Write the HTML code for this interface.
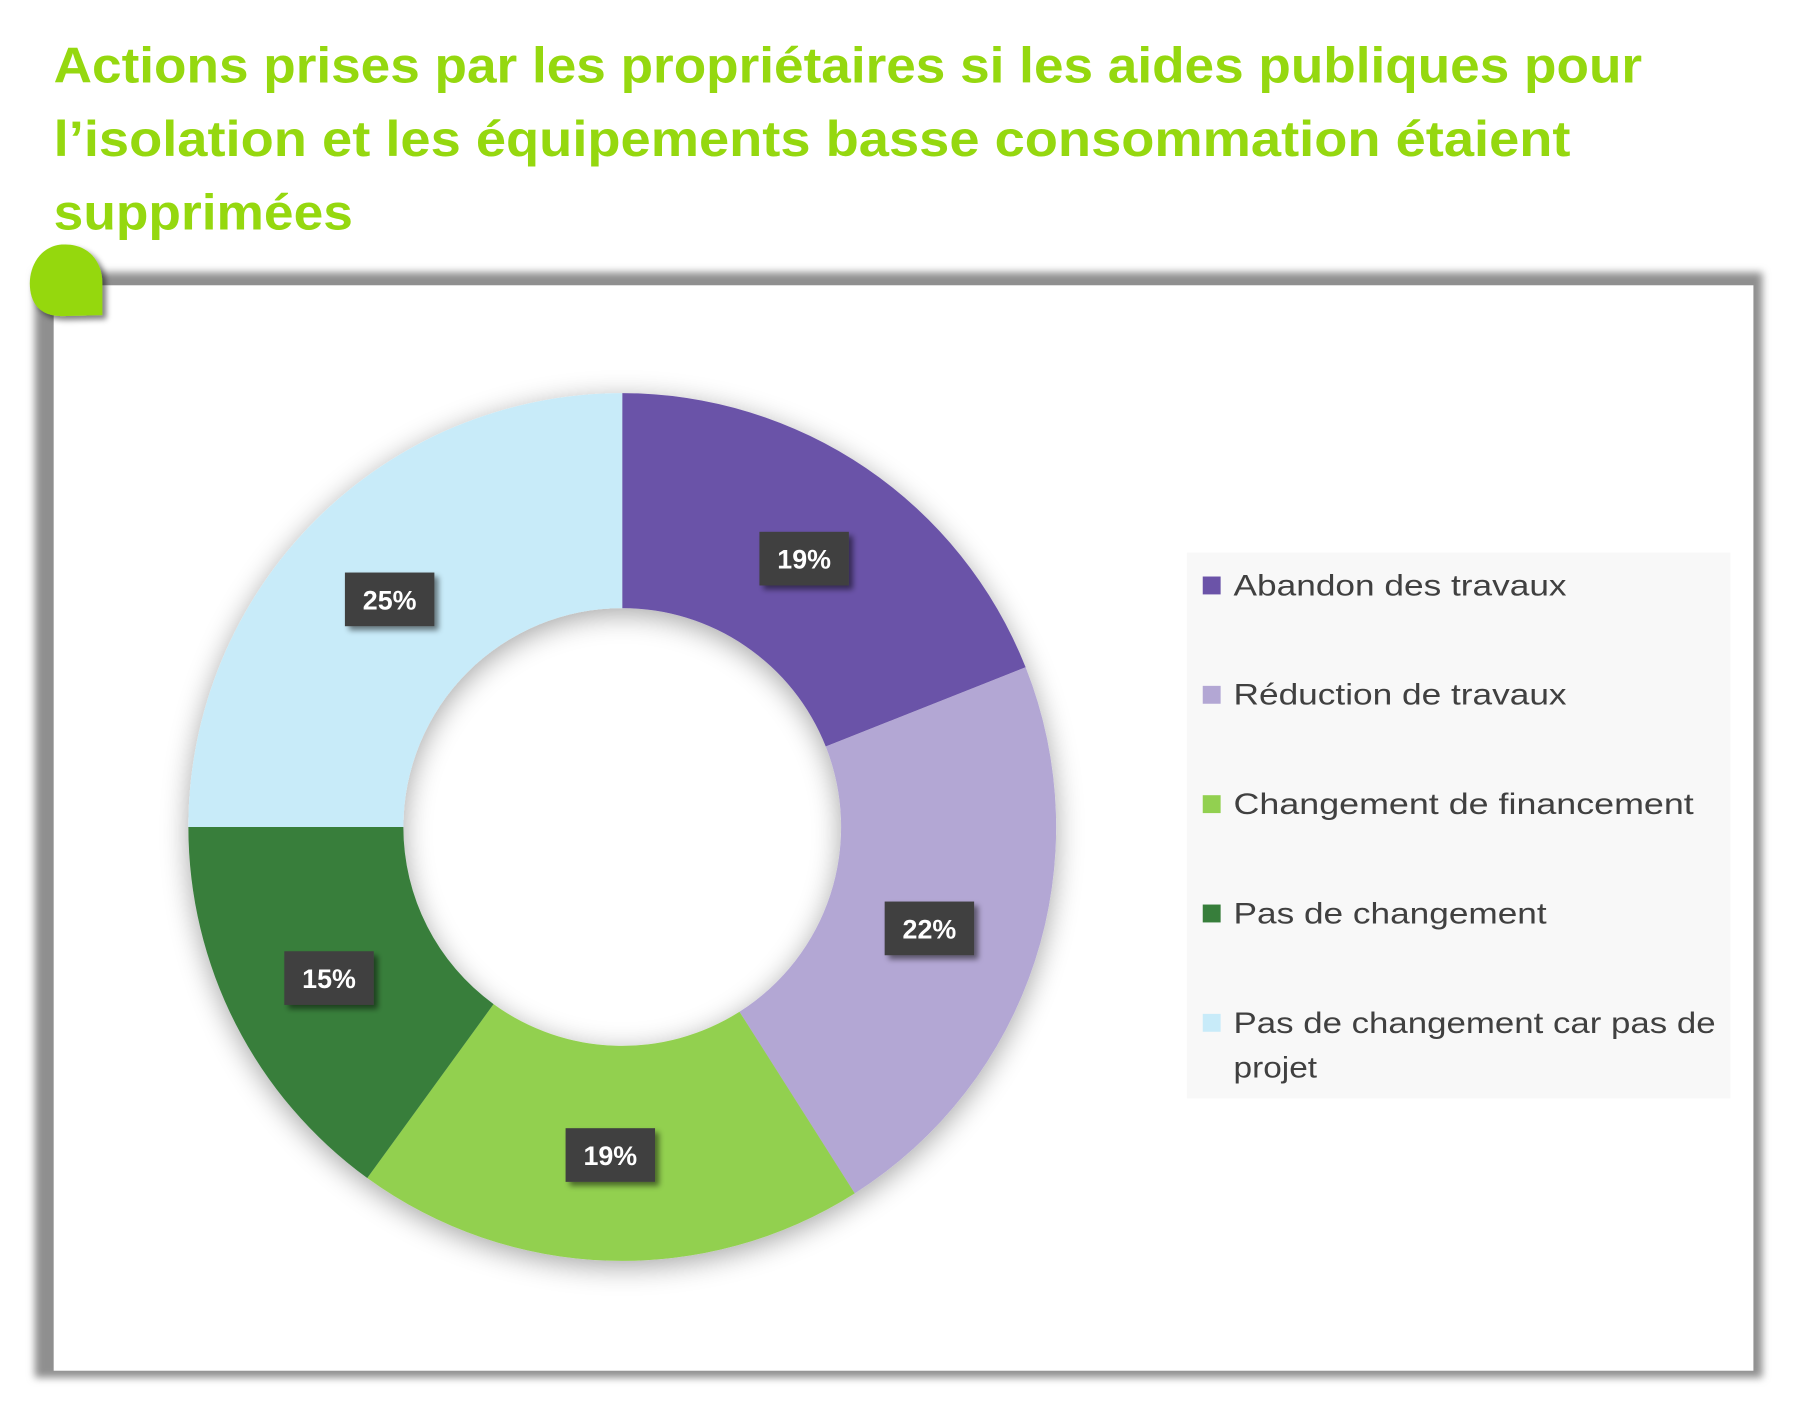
<!DOCTYPE html>
<html><head><meta charset="utf-8"><style>
html,body{margin:0;padding:0;background:#fff;}
svg{display:block;}
</style></head><body>
<svg width="1808" height="1420" viewBox="0 0 1808 1420" xmlns="http://www.w3.org/2000/svg">
<defs>
<filter id="blur2" x="-5%" y="-5%" width="110%" height="110%"><feGaussianBlur stdDeviation="4"/></filter>
<filter id="dsh" x="-20%" y="-20%" width="140%" height="140%"><feGaussianBlur in="SourceAlpha" stdDeviation="14"/><feOffset dx="0" dy="6"/><feComponentTransfer><feFuncA type="linear" slope="0.35"/></feComponentTransfer><feMerge><feMergeNode/><feMergeNode in="SourceGraphic"/></feMerge></filter>
<filter id="lsh" x="-30%" y="-30%" width="160%" height="160%"><feGaussianBlur in="SourceAlpha" stdDeviation="3"/><feOffset dx="4" dy="4"/><feComponentTransfer><feFuncA type="linear" slope="0.5"/></feComponentTransfer><feMerge><feMergeNode/><feMergeNode in="SourceGraphic"/></feMerge></filter>
</defs>
<g transform="scale(0.994)">
<g font-family="'Liberation Sans', sans-serif" font-weight="bold" fill="#95d80f" font-size="50">
<text x="54" y="83" textLength="1598" lengthAdjust="spacingAndGlyphs">Actions prises par les propriétaires si les aides publiques pour</text>
<text x="54" y="157" textLength="1526" lengthAdjust="spacingAndGlyphs">l’isolation et les équipements basse consommation étaient</text>
<text x="54" y="231" textLength="301" lengthAdjust="spacingAndGlyphs">supprimées</text>
</g>
<rect x="35" y="274" width="1738" height="1112" fill="#8f8f8f" filter="url(#blur2)"/>
<rect x="54" y="287" width="1710" height="1092" fill="#fff"/>
<path d="M62 246 C40 248 30 268 30 285 C30 305 40 318 62 318 L103 317 L103 285 C103 262 88 246 66 246 Z" fill="#95d80f" filter="url(#lsh)"/>
<g transform="translate(626 832) scale(0.992) translate(-626 -832)">
<g filter="url(#dsh)">
<path d="M626 392 A440 440 0 0 1 1035.1 670 L832.4 750.3 A222 222 0 0 0 626 610 Z" fill="#6b53a8"/>
<path d="M1035.1 670 A440 440 0 0 1 861.8 1203.5 L744.9 1019.4 A222 222 0 0 0 832.4 750.3 Z" fill="#b3a7d4"/>
<path d="M861.8 1203.5 A440 440 0 0 1 367.4 1188 L495.5 1011.6 A222 222 0 0 0 744.9 1019.4 Z" fill="#92d050"/>
<path d="M367.4 1188 A440 440 0 0 1 186 832 L404 832 A222 222 0 0 0 495.5 1011.6 Z" fill="#377e3b"/>
<path d="M186 832 A440 440 0 0 1 626 392 L626 610 A222 222 0 0 0 404 832 Z" fill="#c8ebf9"/>
</g>
</g>
<g font-family="'Liberation Sans', sans-serif" font-weight="bold" font-size="27" fill="#fff" text-anchor="middle">
<g filter="url(#lsh)">
<rect x="764" y="535" width="90" height="54" fill="#404040"/>
<rect x="890" y="907" width="90" height="54" fill="#404040"/>
<rect x="569" y="1135" width="90" height="54" fill="#404040"/>
<rect x="286" y="957" width="90" height="54" fill="#404040"/>
<rect x="347" y="576" width="90" height="54" fill="#404040"/>
</g>
<text x="809" y="572">19%</text>
<text x="935" y="944">22%</text>
<text x="614" y="1172">19%</text>
<text x="331" y="994">15%</text>
<text x="392" y="613">25%</text>
</g>
<rect x="1194" y="556" width="547" height="549" fill="#f8f8f8"/>
<rect x="1210" y="580" width="18" height="18" fill="#6b53a8"/>
<rect x="1210" y="690" width="18" height="18" fill="#b3a7d4"/>
<rect x="1210" y="800" width="18" height="18" fill="#92d050"/>
<rect x="1210" y="910" width="18" height="18" fill="#377e3b"/>
<rect x="1210" y="1020" width="18" height="18" fill="#c8ebf9"/>
<g font-family="'Liberation Sans', sans-serif" font-size="30" fill="#404040">
<text x="1241" y="599" textLength="335" lengthAdjust="spacingAndGlyphs">Abandon des travaux</text>
<text x="1241" y="709" textLength="335" lengthAdjust="spacingAndGlyphs">Réduction de travaux</text>
<text x="1241" y="819" textLength="463" lengthAdjust="spacingAndGlyphs">Changement de financement</text>
<text x="1241" y="929" textLength="315" lengthAdjust="spacingAndGlyphs">Pas de changement</text>
<text x="1241" y="1039" textLength="485" lengthAdjust="spacingAndGlyphs">Pas de changement car pas de</text>
<text x="1241" y="1084" textLength="84" lengthAdjust="spacingAndGlyphs">projet</text>
</g>
</g>
</svg>
</body></html>
